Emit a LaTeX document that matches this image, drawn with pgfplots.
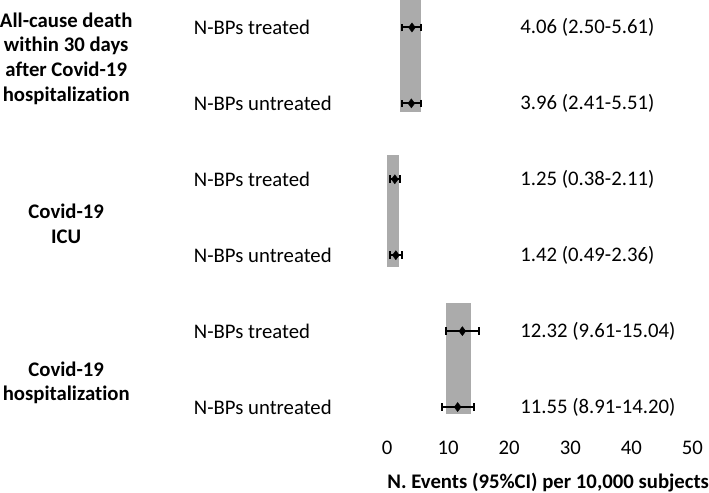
\documentclass[border=0pt]{standalone}
\usepackage{fontspec}
\setmainfont{Carlito}[Ligatures={NoCommon}]
\usepackage{pgfplots}
\usepackage{pgfplotstable}
\pgfplotsset{compat=1.18}
\definecolor{bandgray}{RGB}{171,171,171}
\pgfplotstableread{
x y ep em
4.06 1 1.55 1.56
3.96 2 1.55 1.55
1.25 3 0.86 0.87
1.42 4 0.94 0.93
12.32 5 2.72 2.71
11.55 6 2.65 2.64
}\pts
\begin{document}
\begin{tikzpicture}
\fontsize{20.6}{24.5}\selectfont
\begin{axis}[
  scale only axis,
  width=303pt, height=435pt,
  xmin=0, xmax=50, ymin=0.64, ymax=6.41,
  y dir=reverse,
  clip=false,
  axis line style={draw=none},
  major tick length=0pt,
  ytick=\empty,
  xtick={0,10,20,30,40,50},
  /pgf/number format/assume math mode=true,
  tick label style={font=\fontsize{20.6}{24.5}\selectfont, inner sep=3pt},
]
% gray bands
\addplot[fill=bandgray, draw=none] coordinates {(2.15,0.64) (5.6,0.64) (5.6,2.11) (2.15,2.11)} -- cycle;
\addplot[fill=bandgray, draw=none] coordinates {(0.0,2.68) (2.0,2.68) (2.0,4.16) (0.0,4.16)} -- cycle;
\addplot[fill=bandgray, draw=none] coordinates {(9.6,4.63) (13.7,4.63) (13.7,6.09) (9.6,6.09)} -- cycle;
% points with CI
\addplot[only marks, mark=diamond*, mark size=4.5pt, black,
  error bars/.cd, x dir=both, x explicit,
  error bar style={line width=2pt, black},
  error mark=|, error mark options={mark size=3.8pt, line width=2pt, black}]
  table[x=x, y=y, x error plus=ep, x error minus=em] {\pts};
% row labels
\node[anchor=west, inner sep=0pt] at (axis cs:-31.7,1) {N-BPs treated};
\node[anchor=west, inner sep=0pt] at (axis cs:-31.7,2) {N-BPs untreated};
\node[anchor=west, inner sep=0pt] at (axis cs:-31.7,3) {N-BPs treated};
\node[anchor=west, inner sep=0pt] at (axis cs:-31.7,4) {N-BPs untreated};
\node[anchor=west, inner sep=0pt] at (axis cs:-31.7,5) {N-BPs treated};
\node[anchor=west, inner sep=0pt] at (axis cs:-31.7,6) {N-BPs untreated};
\node[anchor=west, inner sep=0pt] at (axis cs:21.8,1) {4.06 (2.50-5.61)};
\node[anchor=west, inner sep=0pt] at (axis cs:21.8,2) {3.96 (2.41-5.51)};
\node[anchor=west, inner sep=0pt] at (axis cs:21.8,3) {1.25 (0.38-2.11)};
\node[anchor=west, inner sep=0pt] at (axis cs:21.8,4) {1.42 (0.49-2.36)};
\node[anchor=west, inner sep=0pt] at (axis cs:21.8,5) {12.32 (9.61-15.04)};
\node[anchor=west, inner sep=0pt] at (axis cs:21.8,6) {11.55 (8.91-14.20)};
% group labels
\node[align=center, inner sep=0pt, font=\bfseries] at (axis cs:-52.6,1.41) {All-cause death\\within 30 days\\after Covid-19\\hospitalization};
\node[align=center, inner sep=0pt, font=\bfseries] at (axis cs:-52.6,3.59) {Covid-19\\ICU};
\node[align=center, inner sep=0pt, font=\bfseries] at (axis cs:-52.6,5.68) {Covid-19\\hospitalization};
% x label
\node[anchor=west, inner sep=0pt, font=\bfseries] at (axis cs:0,7.0) {N. Events (95\%CI) per 10,000 subjects};
\end{axis}
\end{tikzpicture}
\end{document}
